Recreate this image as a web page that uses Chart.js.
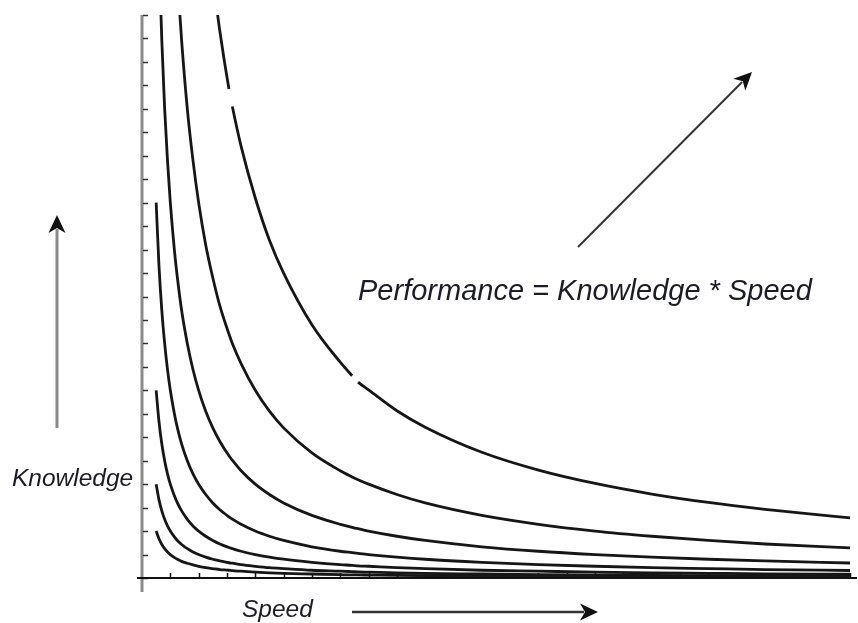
<!DOCTYPE html>
<html>
<head>
<meta charset="utf-8">
<script src="https://cdn.jsdelivr.net/npm/chart.js@4.4.1/dist/chart.umd.min.js"></script>
<style>
  body { margin: 0; background: #fff; }
  canvas { display: block; }
</style>
</head>
<body>
<canvas id="perfChart" width="858" height="623"></canvas>
<script>
const speed = [0.5, 0.6, 0.7, 0.8, 0.9, 1, 1.15, 1.25, 1.4, 1.6, 1.8, 2, 2.25, 2.5, 2.75, 3.07, 3.19, 3.5,
               4, 4.5, 5, 6, 7, 7.42, 7.63, 8, 9, 10, 12, 14, 16, 18, 20, 22, 25];

// Knowledge values for each performance level (null = above the top of the plot)
const perf1 = [2.0, 1.67, 1.43, 1.25, 1.11, 1.0, 0.87, 0.8, 0.71, 0.63, 0.56, 0.5, 0.44, 0.4, 0.36, 0.33, 0.31, 0.29,
               0.25, 0.22, 0.2, 0.17, 0.14, 0.13, 0.13, 0.125, 0.11, 0.1, 0.083, 0.071, 0.063, 0.056, 0.05, 0.045, 0.04];
const perf2 = [4.0, 3.33, 2.86, 2.5, 2.22, 2.0, 1.74, 1.6, 1.43, 1.25, 1.11, 1.0, 0.89, 0.8, 0.73, 0.65, 0.63, 0.57,
               0.5, 0.44, 0.4, 0.33, 0.29, 0.27, 0.26, 0.25, 0.22, 0.2, 0.17, 0.14, 0.125, 0.11, 0.1, 0.09, 0.08];
const perf4 = [8.0, 6.67, 5.71, 5.0, 4.44, 4.0, 3.48, 3.2, 2.86, 2.5, 2.22, 2.0, 1.78, 1.6, 1.45, 1.3, 1.25, 1.14,
               1.0, 0.89, 0.8, 0.67, 0.57, 0.54, 0.52, 0.5, 0.44, 0.4, 0.33, 0.29, 0.25, 0.22, 0.2, 0.18, 0.16];
const perf8 = [16.0, 13.3, 11.4, 10.0, 8.89, 8.0, 6.96, 6.4, 5.71, 5.0, 4.44, 4.0, 3.56, 3.2, 2.91, 2.61, 2.51, 2.29,
               2.0, 1.78, 1.6, 1.33, 1.14, 1.08, 1.05, 1.0, 0.89, 0.8, 0.67, 0.57, 0.5, 0.44, 0.4, 0.36, 0.32];
const perf16 = [null, 26.7, 22.9, 20.0, 17.8, 16.0, 13.9, 12.8, 11.4, 10.0, 8.89, 8.0, 7.11, 6.4, 5.82, 5.21, 5.02, 4.57,
                4.0, 3.56, 3.2, 2.67, 2.29, 2.16, 2.1, 2.0, 1.78, 1.6, 1.33, 1.14, 1.0, 0.89, 0.8, 0.73, 0.64];
const perf32 = [null, null, null, null, null, null, null, 25.6, 22.9, 20.0, 17.8, 16.0, 14.2, 12.8, 11.6, 10.4, 10.0, 9.14,
                8.0, 7.11, 6.4, 5.33, 4.57, 4.31, 4.19, 4.0, 3.56, 3.2, 2.67, 2.29, 2.0, 1.78, 1.6, 1.45, 1.28];
const perf64 = [null, null, null, null, null, null, null, null, null, null, null, null, null, 25.6, 23.3, 20.85, 20.1, 18.4,
                16.2, 14.4, 13.0, 10.8, 9.2, 8.62, 8.35, 8.02, 7.13, 6.43, 5.36, 4.6, 4.03, 3.58, 3.22, 2.93, 2.56];

// the top curve has two small breaks (start speed of each break)
const gapStarts = [3.07, 7.42];

const curves = [perf1, perf2, perf4, perf8, perf16, perf32, perf64];
const lineColor = '#161616';

const datasets = curves.map((values, i) => ({
    data: values.map((k, j) => ({ x: speed[j], y: k })),
    borderColor: lineColor,
    borderWidth: 2.8,
    pointRadius: 0,
    fill: false,
    cubicInterpolationMode: 'monotone',
    segment: i === curves.length - 1 ? {
        borderColor: ctx => gapStarts.includes(ctx.p0.parsed.x) ? 'rgba(0,0,0,0)' : lineColor
    } : undefined
}));

function arrow(ctx, x1, y1, x2, y2, color, width, headColor) {
    const ang = Math.atan2(y2 - y1, x2 - x1);
    const len = 18, half = 8.5;
    ctx.save();
    ctx.strokeStyle = color;
    ctx.lineWidth = width;
    ctx.beginPath();
    ctx.moveTo(x1, y1);
    ctx.lineTo(x2 - Math.cos(ang) * (len - 4), y2 - Math.sin(ang) * (len - 4));
    ctx.stroke();
    ctx.translate(x2, y2);
    ctx.rotate(ang);
    ctx.fillStyle = headColor;
    ctx.beginPath();
    ctx.moveTo(0, 0);
    ctx.lineTo(-len, -half);
    ctx.lineTo(-len + 5, 0);
    ctx.lineTo(-len, half);
    ctx.closePath();
    ctx.fill();
    ctx.restore();
}

const axesAndNotes = {
    id: 'axesAndNotes',
    beforeDatasetsDraw(chart) {
        const ctx = chart.ctx;
        const xs = chart.scales.x, ys = chart.scales.y;
        const x0 = xs.getPixelForValue(0), y0 = ys.getPixelForValue(0);
        ctx.save();
        // y axis (grey, runs a little below the x axis)
        ctx.strokeStyle = '#8a8a8a';
        ctx.lineWidth = 3;
        ctx.beginPath();
        ctx.moveTo(x0, ys.getPixelForValue(24));
        ctx.lineTo(x0, y0 + 14);
        ctx.stroke();
        // y ticks, pointing inward
        ctx.strokeStyle = '#333';
        ctx.lineWidth = 1.5;
        for (let v = 0; v <= 24; v++) {
            const y = Math.round(ys.getPixelForValue(v)) + 0.5;
            ctx.beginPath();
            ctx.moveTo(x0 + 1, y);
            ctx.lineTo(x0 + 6, y);
            ctx.stroke();
        }
        // x axis
        ctx.strokeStyle = '#111';
        ctx.lineWidth = 2;
        ctx.beginPath();
        ctx.moveTo(x0 - 5, y0);
        ctx.lineTo(xs.getPixelForValue(25) + 7, y0);
        ctx.stroke();
        ctx.lineWidth = 1.5;
        for (let v = 1; v <= 25; v++) {
            const x = Math.round(xs.getPixelForValue(v)) + 0.5;
            ctx.beginPath();
            ctx.moveTo(x, y0);
            ctx.lineTo(x, y0 - 5);
            ctx.stroke();
        }
        ctx.restore();
    },
    afterDraw(chart) {
        const ctx = chart.ctx;
        ctx.save();
        ctx.fillStyle = '#1c1c28';
        ctx.textBaseline = 'alphabetic';
        ctx.textAlign = 'left';
        ctx.font = 'italic 24.5px "Liberation Sans", Arial, sans-serif';
        ctx.fillText('Knowledge', 12, 486);
        ctx.fillText('Speed', 242, 617);
        ctx.font = 'italic 29px "Liberation Sans", Arial, sans-serif';
        ctx.fillText('Performance = Knowledge * Speed', 358, 300);
        ctx.restore();

        arrow(ctx, 57, 428, 57, 215, '#8a8a8a', 3, '#111');
        arrow(ctx, 352, 612, 598, 612, '#333', 2.5, '#111');
        arrow(ctx, 578, 247, 752, 72, '#333', 2, '#111');
    }
};

new Chart(document.getElementById('perfChart').getContext('2d'), {
    type: 'line',
    data: { datasets: datasets },
    options: {
        responsive: false,
        animation: false,
        layout: { padding: { left: 142, right: 8, top: 15, bottom: 45 } },
        plugins: { legend: { display: false }, tooltip: { enabled: false } },
        scales: {
            x: { type: 'linear', min: 0, max: 25, display: false },
            y: { min: 0, max: 24, display: false }
        }
    },
    plugins: [axesAndNotes]
});
</script>
</body>
</html>
